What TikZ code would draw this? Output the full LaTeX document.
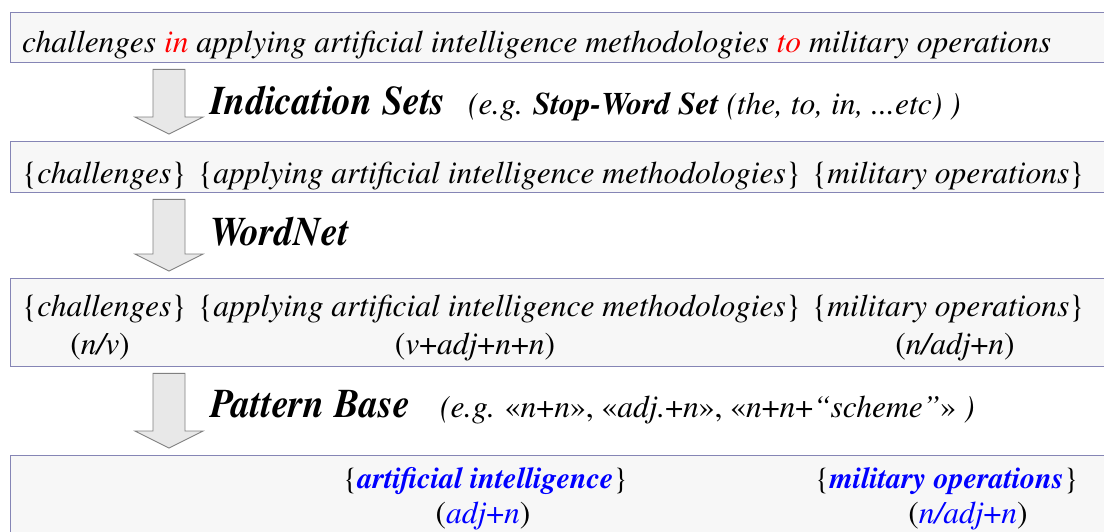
\documentclass[tikz,border=0pt]{standalone}
\usepackage[T1]{fontenc}
\usepackage{mathptmx}
\usetikzlibrary{calc}

\definecolor{panelfill}{HTML}{F7F7F7}
\definecolor{paneledge}{HTML}{8585B5}
\definecolor{arrowfill}{HTML}{E8E8E8}
\definecolor{arrowedge}{HTML}{808080}

\newcommand{\gl}{\guillemotleft}
\newcommand{\gr}{\guillemotright}

\tikzset{
  panel/.style={draw=paneledge, fill=panelfill, line width=1.3pt, anchor=north west, minimum width=1120pt, inner sep=0pt},
  words/.style={anchor=base west, inner sep=0pt, font=\fontsize{31.5}{36}\selectfont},
  tag/.style={anchor=base, inner sep=0pt, font=\fontsize{31.5}{36}\selectfont},
  result/.style={anchor=base west, inner sep=0pt, font=\fontsize{30}{35}\selectfont},
  stage/.style={anchor=base west, inner sep=0pt, font=\fontsize{38}{44}\selectfont\bfseries\itshape},
  note/.style={anchor=base west, inner sep=0pt, font=\fontsize{31.5}{36}\selectfont\itshape},
  downarrow/.style={draw=arrowedge, fill=arrowfill, line width=0.9pt, line join=miter}
}

\begin{document}
\begin{tikzpicture}[x=1pt, y=-1pt]
\useasboundingbox (0,0) rectangle (1104,531);

% the four panels
\node[panel, minimum height=50pt] (box1) at (10,12) {};
\node[panel, minimum height=51pt] (box2) at (10,141) {};
\node[panel, minimum height=88pt] (box3) at (10,278) {};
\node[panel, minimum height=90pt] (box4) at (10,455) {};

% block arrows between the panels
\foreach \a/\b in {box1/box2, box2/box3, box3/box4}
  \draw[downarrow] let \p1=(\a.south west), \p2=(\b.north west) in
    (\x1+143pt,\y1-6pt) -- (\x1+175pt,\y1-6pt) -- (\x1+175pt,\y2+24pt)
    -- (\x1+193pt,\y2+24pt) -- (\x1+159pt,\y2+7pt) -- (\x1+125pt,\y2+24pt)
    -- (\x1+143pt,\y2+24pt) -- cycle;

% sentence
\node[words] (sent) at (22,52) {\itshape challenges \textcolor{red}{in} applying artificial intelligence methodologies \textcolor{red}{to} military operations};

% step 1
\node[stage] (indic) at (210,114) {\scalebox{1}[1.07]{Indication Sets}};
\node[note] (indicnote) at (468,114) {(e.g. \textbf{Stop-Word Set} (the, to, in, ...etc) )};

\node[words] (c2a) at (22,183) {\{\textit{challenges}\}};
\node[words] (c2b) at (198,183) {\{\textit{applying artificial intelligence methodologies}\}};
\node[words] (c2c) at (812,183) {\{\textit{military operations}\}};

% step 2
\node[stage] (wnet) at (210,245) {\scalebox{1}[1.07]{WordNet}};

\node[words] (c3a) at (22,316) {\{\textit{challenges}\}};
\node[words] (c3b) at (198,316) {\{\textit{applying artificial intelligence methodologies}\}};
\node[words] (c3c) at (812,316) {\{\textit{military operations}\}};
\node[tag] (t3a) at (100,354) {(\textit{n/v})};
\node[tag] (t3b) at (475,354) {(\textit{v}+\textit{adj}+\textit{n}+\textit{n})};
\node[tag] (t3c) at (955,354) {(\textit{n/adj}+\textit{n})};

% step 3
\node[stage] (pbase) at (210,417) {\scalebox{1}[1.07]{Pattern Base}};
\node[note] (pnote) at (440,417) {(e.g. \upshape\gl\itshape n\upshape+\itshape n\upshape\gr, \gl\itshape adj.\upshape+\itshape n\upshape\gr, \gl\itshape n\upshape+\itshape n\upshape+\itshape``scheme''\upshape\gr{} \itshape)};

\node[result] (c4a) at (343,488) {\{\textcolor{blue}{\bfseries\itshape artificial intelligence}\}};
\node[result] (c4b) at (815,488) {\{\textcolor{blue}{\bfseries\itshape military operations}\}};
\node[tag] (t4a) at (483,523) {(\textcolor{blue}{\textit{adj}+\textit{n}})};
\node[tag] (t4b) at (968,523) {(\textcolor{blue}{\textit{n/adj}+\textit{n}})};
\end{tikzpicture}
\end{document}
